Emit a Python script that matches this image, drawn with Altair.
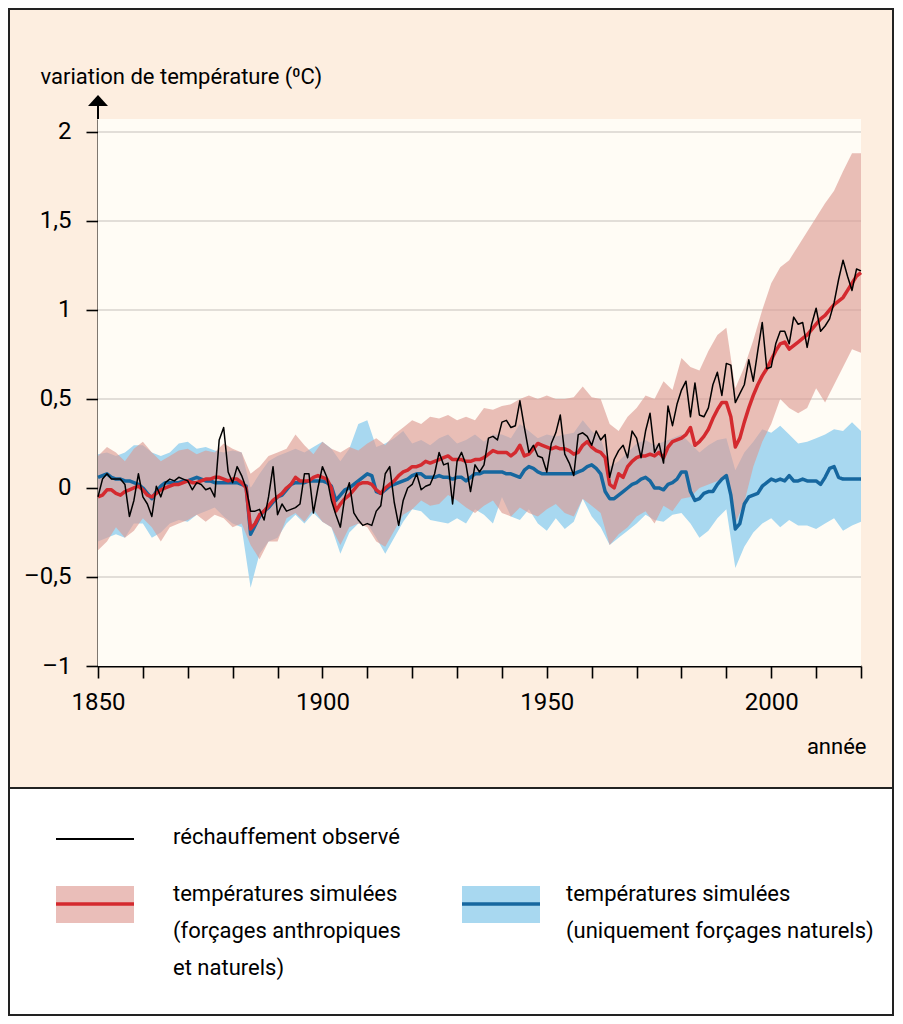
import altair as alt
import pandas as pd

# ---------------- data ----------------
YEARS = list(range(1850, 2021))

OBS = [
    -0.05, 0.05, 0.08, 0.05, 0.05, 0.05, 0.02, -0.16, -0.07, 0.08,
    -0.05, -0.09, -0.16, 0.01, -0.05, 0.03, 0.05, 0.04, 0.06, 0.05,
    0.04, -0.01, 0.03, 0.02, -0.01, 0.0, -0.05, 0.27, 0.34, 0.09,
    0.03, 0.12, 0.07, 0.0, -0.13, -0.13, -0.12, -0.18, -0.05, 0.12,
    -0.15, -0.09, -0.13, -0.12, -0.11, -0.09, 0.08, 0.08, -0.14, 0.0,
    0.12, 0.06, -0.07, -0.15, -0.22, -0.05, 0.03, -0.14, -0.18, -0.21,
    -0.2, -0.21, -0.13, -0.1, 0.08, 0.12, -0.08, -0.21, -0.07, 0.0,
    0.02, 0.08, -0.01, 0.01, 0.02, 0.08, 0.2, 0.13, 0.14, -0.09,
    0.15, 0.2, 0.13, -0.02, 0.13, 0.09, 0.13, 0.28, 0.29, 0.27,
    0.37, 0.38, 0.34, 0.35, 0.49, 0.34, 0.2, 0.24, 0.18, 0.17,
    0.09, 0.25, 0.31, 0.41, 0.19, 0.14, 0.07, 0.3, 0.31, 0.29,
    0.24, 0.32, 0.27, 0.3, 0.06, 0.16, 0.21, 0.24, 0.17, 0.32,
    0.28, 0.17, 0.32, 0.42, 0.2, 0.25, 0.14, 0.46, 0.35, 0.47,
    0.55, 0.6, 0.4, 0.59, 0.41, 0.4, 0.45, 0.58, 0.65, 0.52,
    0.7, 0.69, 0.48, 0.53, 0.58, 0.72, 0.6, 0.77, 0.93, 0.67,
    0.68, 0.81, 0.88, 0.88, 0.81, 0.96, 0.92, 0.93, 0.79, 0.92,
    1.01, 0.88, 0.91, 0.95, 1.04, 1.17, 1.28, 1.19, 1.11, 1.23,
    1.22,
]

RED = [
    -0.05, -0.04, -0.01, -0.01, -0.03, -0.04, -0.02, -0.01, 0.0, 0.01,
    -0.01, -0.04, -0.05, -0.03, -0.01, 0.0, 0.01, 0.02, 0.02, 0.03,
    0.04, 0.03, 0.03, 0.04, 0.05, 0.05, 0.06, 0.06, 0.05, 0.04,
    0.05, 0.05, 0.03, 0.0, -0.23, -0.2, -0.15, -0.13, -0.1, -0.07,
    -0.05, -0.03, 0.0, 0.02, 0.06, 0.04, 0.04, 0.04, 0.06, 0.07,
    0.06, 0.05, 0.0, -0.13, -0.09, -0.06, -0.04, -0.01, 0.02, 0.03,
    0.03, 0.02, -0.01, -0.03, 0.0, 0.02, 0.04, 0.07, 0.09, 0.1,
    0.12, 0.12, 0.13, 0.15, 0.14, 0.15, 0.16, 0.17, 0.18, 0.16,
    0.16, 0.16, 0.15, 0.15, 0.16, 0.16, 0.17, 0.19, 0.21, 0.2,
    0.2, 0.2, 0.18, 0.2, 0.24, 0.18, 0.19, 0.22, 0.25, 0.24,
    0.23, 0.22, 0.23, 0.22, 0.22, 0.21, 0.19, 0.2, 0.24, 0.26,
    0.23, 0.21, 0.2, 0.17, 0.02, 0.0, 0.08, 0.06, 0.12, 0.15,
    0.17, 0.18, 0.18, 0.19, 0.18, 0.2, 0.17, 0.23, 0.26, 0.27,
    0.28, 0.3, 0.34, 0.24, 0.26, 0.29, 0.33, 0.39, 0.44, 0.48,
    0.48, 0.4, 0.23, 0.28, 0.37, 0.45, 0.52, 0.58, 0.63, 0.67,
    0.72, 0.77, 0.81, 0.82, 0.78, 0.8, 0.82, 0.84, 0.86, 0.89,
    0.92, 0.95, 0.97, 1.0, 1.03, 1.05, 1.07, 1.11, 1.15, 1.19,
    1.21,
]

BLUE = [
    0.06, 0.07, 0.08, 0.06, 0.05, 0.05, 0.04, 0.04, 0.03, 0.02,
    0.0, -0.03, -0.06, -0.02, 0.01, 0.03, 0.03, 0.03, 0.03, 0.04,
    0.04, 0.05, 0.06, 0.05, 0.04, 0.04, 0.03, 0.03, 0.03, 0.03,
    0.03, 0.03, 0.02, 0.01, -0.26, -0.21, -0.16, -0.13, -0.11, -0.08,
    -0.05, -0.04, -0.01, 0.02, 0.03, 0.03, 0.03, 0.04, 0.04, 0.04,
    0.04, 0.03, 0.01, -0.07, -0.04, -0.01, 0.0, 0.02, 0.04, 0.06,
    0.08, 0.07, -0.02, -0.03, -0.01, 0.01, 0.02, 0.03, 0.04, 0.05,
    0.07, 0.08, 0.08, 0.06, 0.06, 0.06, 0.07, 0.06, 0.06, 0.05,
    0.06, 0.06, 0.04, 0.06, 0.08, 0.08, 0.09, 0.09, 0.09, 0.09,
    0.09, 0.08, 0.08, 0.07, 0.06, 0.1, 0.12, 0.11, 0.09, 0.08,
    0.08, 0.08, 0.08, 0.08, 0.08, 0.08, 0.08, 0.09, 0.1, 0.12,
    0.13, 0.11, 0.08, -0.02, -0.06, -0.06, -0.04, -0.02, 0.0, 0.02,
    0.03, 0.05, 0.06, 0.04, 0.0, 0.0, -0.01, 0.02, 0.03, 0.05,
    0.09, 0.09, -0.02, -0.07, -0.06, -0.03, -0.02, -0.02, 0.02, 0.05,
    0.07, -0.04, -0.23, -0.2, -0.09, -0.05, -0.04, -0.03, 0.01, 0.03,
    0.05, 0.04, 0.05, 0.04, 0.07, 0.04, 0.04, 0.05, 0.04, 0.04,
    0.04, 0.02, 0.06, 0.11, 0.12, 0.06, 0.05, 0.05, 0.05, 0.05,
    0.05,
]

BAND_YEARS = list(range(1850, 2021, 2))

RED_HI = [
    0.18, 0.23, 0.2, 0.15, 0.22, 0.26, 0.2, 0.15, 0.18, 0.21,
    0.22, 0.19, 0.21, 0.2, 0.25, 0.22, 0.2, 0.08, 0.12, 0.18,
    0.2, 0.22, 0.3, 0.24, 0.19, 0.26, 0.22, 0.2, 0.23, 0.21,
    0.25, 0.28, 0.24, 0.3, 0.34, 0.38, 0.36, 0.4, 0.39, 0.41,
    0.38, 0.4, 0.38, 0.45, 0.44, 0.46, 0.47, 0.5, 0.52, 0.5,
    0.52, 0.5, 0.5, 0.51, 0.57, 0.51, 0.5, 0.36, 0.32, 0.4,
    0.45, 0.52, 0.5, 0.6, 0.55, 0.73, 0.68, 0.66, 0.77, 0.86,
    0.9, 0.56, 0.68, 0.83, 1.0, 1.15, 1.24, 1.28, 1.36, 1.44,
    1.52, 1.6, 1.67, 1.78, 1.88, 1.88,
]
RED_LO = [
    -0.35, -0.3, -0.22, -0.28, -0.24, -0.17, -0.22, -0.3, -0.22, -0.2,
    -0.18, -0.15, -0.19, -0.15, -0.17, -0.22, -0.2, -0.32, -0.4, -0.3,
    -0.3, -0.17, -0.14, -0.19, -0.12, -0.19, -0.22, -0.32, -0.22, -0.2,
    -0.22, -0.3, -0.33, -0.24, -0.15, -0.12, -0.07, -0.1, -0.09, -0.04,
    -0.07, -0.11, -0.14, -0.1, -0.07, -0.14, -0.16, -0.11, -0.14, -0.16,
    -0.12, -0.09, -0.14, -0.16, -0.06, -0.1, -0.14, -0.32, -0.26, -0.22,
    -0.16, -0.13, -0.2, -0.1, -0.13, -0.06, -0.05, 0.0, 0.02, 0.04,
    0.06, -0.2, -0.08, 0.12, 0.26, 0.36, 0.5, 0.45, 0.42, 0.45,
    0.56, 0.48, 0.58, 0.68, 0.78, 0.76,
]
BLUE_HI = [
    0.19, 0.2, 0.18, 0.2, 0.24, 0.24, 0.2, 0.18, 0.2, 0.25,
    0.26, 0.22, 0.23, 0.21, 0.2, 0.21, 0.2, 0.0, 0.08, 0.15,
    0.18, 0.2, 0.22, 0.2, 0.23, 0.26, 0.22, 0.15, 0.22, 0.36,
    0.38, 0.23, 0.25, 0.28, 0.32, 0.25, 0.27, 0.24, 0.28, 0.3,
    0.25, 0.27, 0.3, 0.26, 0.3, 0.3, 0.28, 0.36, 0.32, 0.28,
    0.3, 0.29, 0.3, 0.31, 0.38, 0.32, 0.28, 0.12, 0.15, 0.2,
    0.25, 0.27, 0.24, 0.26, 0.28, 0.3, 0.25, 0.2, 0.24, 0.27,
    0.28, 0.1, 0.2, 0.26, 0.33, 0.31, 0.35, 0.3, 0.25, 0.26,
    0.28, 0.3, 0.33, 0.32, 0.37, 0.32,
]
BLUE_LO = [
    -0.3, -0.28, -0.26, -0.28, -0.2, -0.2, -0.28, -0.25, -0.2, -0.18,
    -0.19, -0.15, -0.13, -0.11, -0.16, -0.2, -0.22, -0.56, -0.37, -0.3,
    -0.28, -0.2, -0.15, -0.2, -0.14, -0.19, -0.22, -0.37, -0.25, -0.2,
    -0.2, -0.28, -0.37, -0.28, -0.19, -0.12, -0.13, -0.18, -0.19, -0.2,
    -0.17, -0.2, -0.12, -0.15, -0.2, -0.05, -0.16, -0.18, -0.12, -0.2,
    -0.24, -0.17, -0.23, -0.19, -0.06, -0.16, -0.22, -0.32, -0.28, -0.24,
    -0.2, -0.15, -0.18, -0.19, -0.15, -0.14, -0.2, -0.28, -0.24, -0.17,
    -0.12, -0.45, -0.33, -0.25, -0.2, -0.17, -0.22, -0.18, -0.21, -0.21,
    -0.23, -0.2, -0.17, -0.24, -0.21, -0.19,
]

X_DOMAIN = [1850, 2020]
Y_DOMAIN = [-1, 2.073]
Y_TICKS = [-1, -0.5, 0, 0.5, 1, 1.5, 2]
GRID_VALUES = [-0.5, 0, 0.5, 1, 1.5, 2]
X_TICKS = list(range(1850, 2021, 10))

Y_TITLE = "variation de température (\u2070C)"
X_TITLE = "année"
LEGEND_OBS = "réchauffement observé"
LEGEND_RED = "températures simulées\n(forçages anthropiques\net naturels)"
LEGEND_BLUE = "températures simulées\n(uniquement forçages naturels)"

# ---------------- style ----------------
FONT = "Roboto"
FS = 22          # titles / legend text
FS_TICK = 24     # tick labels
PEACH = "#fdeee0"
CREAM = "#fffcf5"
GRID = "#d9d5ce"
RED_LINE = "#d42a2f"
BLUE_LINE = "#16679f"
RED_BAND = "#dc9991"
RED_BAND_OPACITY = 0.63
BLUE_BAND = "#a8d8f0"
RED_SWATCH = "#eabeb9"
BORDER = "#222222"
ARROW_SHAPE = "M-1,0.55L1,0.55L0,-0.55Z"

W, H = 884, 779
LW, LH = 884, 227

xs = alt.Scale(domain=X_DOMAIN, range=[89, 852], nice=False, zero=False)
ys = alt.Scale(domain=Y_DOMAIN, range=[657, 110], nice=False, zero=False)

xaxis = alt.Axis(
    values=X_TICKS,
    labelExpr="datum.value % 50 === 0 ? format(datum.value, 'd') : ''",
    offset=-122, grid=False,
    domainColor="black", domainWidth=2,
    tickColor="black", tickWidth=1.6, tickSize=12,
    labelFont=FONT, labelFontSize=FS_TICK, labelColor="black", labelPadding=12,
    labelFlush=False, labelOverlap=False,
    title=X_TITLE, titleFont=FONT, titleFontSize=FS, titleFontWeight="normal",
    titleColor="black", titleX=857, titleY=87, titleAlign="right",
    titleBaseline="alphabetic",
)
yaxis = alt.Axis(
    values=Y_TICKS,
    labelExpr="(datum.value < 0 ? '\u2013' : '') + replace(format(abs(datum.value), '~g'), '.', ',')",
    offset=-89, grid=False,
    domainColor="black", domainWidth=2,
    tickColor="black", tickWidth=1.6, tickSize=12,
    labelFont=FONT, labelFontSize=FS_TICK, labelColor="black", labelPadding=15,
    labelFlush=False, labelOverlap=False,
    title=Y_TITLE, titleFont=FONT, titleFontSize=FS, titleFontWeight="normal",
    titleColor="black", titleAngle=0, titleX=-58, titleY=74, titleAlign="left",
    titleBaseline="alphabetic",
)

lines_df = pd.DataFrame({"year": YEARS, "obs": OBS, "red": RED, "blue": BLUE})
bands_df = pd.DataFrame({"year": BAND_YEARS, "rhi": RED_HI, "rlo": RED_LO,
                         "bhi": BLUE_HI, "blo": BLUE_LO})
frame_df = pd.DataFrame({"x0": [X_DOMAIN[0]], "x1": [X_DOMAIN[1]],
                         "y0": [Y_DOMAIN[0]], "y1": [Y_DOMAIN[1]]})
grid_df = pd.DataFrame({"v": GRID_VALUES, "x0": X_DOMAIN[0], "x1": X_DOMAIN[1]})

X = lambda f: alt.X(f, type="quantitative", scale=xs, axis=xaxis)
Y = lambda f: alt.Y(f, type="quantitative", scale=ys, axis=yaxis)

plot_bg = alt.Chart(frame_df).mark_rect(color=CREAM).encode(
    x=X("x0"), x2="x1", y=Y("y0"), y2="y1")

grid = alt.Chart(grid_df).mark_rule(color=GRID, strokeWidth=1.5).encode(
    x=X("x0"), x2="x1", y=Y("v"))

blue_band = alt.Chart(bands_df).mark_area(color=BLUE_BAND, opacity=1).encode(
    x=X("year"), y=Y("bhi"), y2="blo")
red_band = alt.Chart(bands_df).mark_area(color=RED_BAND, opacity=RED_BAND_OPACITY).encode(
    x=X("year"), y=Y("rhi"), y2="rlo")

blue_line = alt.Chart(lines_df).mark_line(color=BLUE_LINE, strokeWidth=3.5, strokeJoin="round").encode(
    x=X("year"), y=Y("blue"))
red_line = alt.Chart(lines_df).mark_line(color=RED_LINE, strokeWidth=3.5, strokeJoin="round").encode(
    x=X("year"), y=Y("red"))
obs_line = alt.Chart(lines_df).mark_line(color="black", strokeWidth=1.5, strokeJoin="round").encode(
    x=X("year"), y=Y("obs"))

one = pd.DataFrame({"k": [0]})
axis_ext = alt.Chart(one).mark_rule(color="black", strokeWidth=2).encode(
    x=alt.value(89), y=alt.value(96), y2=alt.value(110))
arrow = alt.Chart(one).mark_point(shape=ARROW_SHAPE, filled=True, size=400,
                                  color="black", opacity=1, strokeWidth=0).encode(
    x=alt.value(89), y=alt.value(91.5))

top = alt.layer(plot_bg, grid, blue_band, red_band, blue_line, red_line,
                obs_line, axis_ext, arrow).properties(
    width=W, height=H,
    view=alt.ViewBackground(fill=PEACH, stroke=BORDER, strokeWidth=2),
)

# ---------------- legend panel ----------------
def label_layer(text, x, y):
    return alt.Chart(pd.DataFrame({"label": [text]})).mark_text(
        align="left", baseline="alphabetic", font=FONT, fontSize=FS,
        lineHeight=37, lineBreak="\n", color="black").encode(
        x=alt.value(x), y=alt.value(y), text="label:N")

leg_obs_key = alt.Chart(one).mark_rule(color="black", strokeWidth=2).encode(
    x=alt.value(47), x2=alt.value(125), y=alt.value(51))
leg_red_sw = alt.Chart(one).mark_rect(color=RED_SWATCH).encode(
    x=alt.value(47), x2=alt.value(125), y=alt.value(98), y2=alt.value(135))
leg_red_ln = alt.Chart(one).mark_rule(color=RED_LINE, strokeWidth=3.5).encode(
    x=alt.value(47), x2=alt.value(125), y=alt.value(116))
leg_blue_sw = alt.Chart(one).mark_rect(color=BLUE_BAND).encode(
    x=alt.value(453), x2=alt.value(531), y=alt.value(98), y2=alt.value(135))
leg_blue_ln = alt.Chart(one).mark_rule(color=BLUE_LINE, strokeWidth=3.5).encode(
    x=alt.value(453), x2=alt.value(531), y=alt.value(116))

legend = alt.layer(
    leg_obs_key, leg_red_sw, leg_red_ln, leg_blue_sw, leg_blue_ln,
    label_layer(LEGEND_OBS, 164, 56),
    label_layer(LEGEND_RED, 164, 113),
    label_layer(LEGEND_BLUE, 557, 113),
).properties(
    width=LW, height=LH,
    view=alt.ViewBackground(fill="white", stroke=BORDER, strokeWidth=2),
)

chart = alt.vconcat(top, legend, spacing=0, bounds="flush").configure(
    background="white", padding=0
)

chart.save("out.html", embed_options={"renderer": "svg", "actions": False})
